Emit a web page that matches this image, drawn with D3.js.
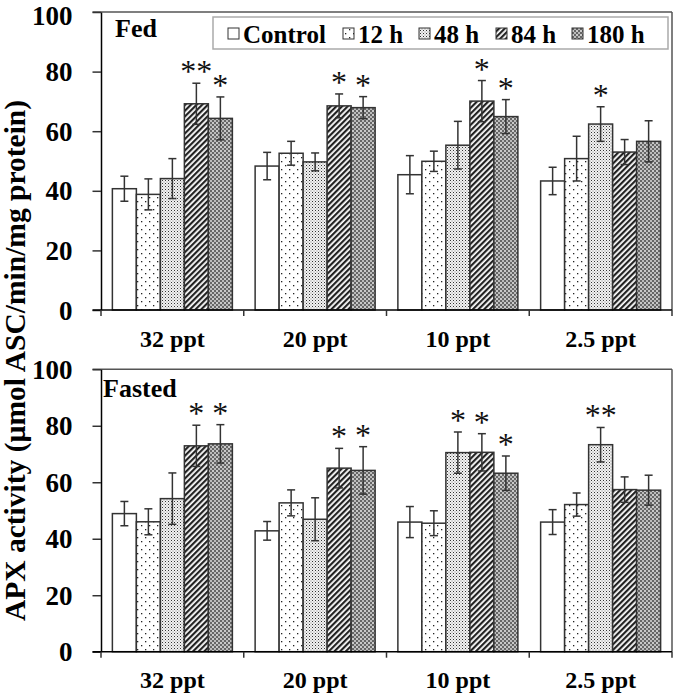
<!DOCTYPE html>
<html><head><meta charset="utf-8">
<script src="https://cdn.jsdelivr.net/npm/d3@7"></script>
<style>body{margin:0;background:#fff}svg{display:block}</style>
</head><body>
<script>
const categories = ["32 ppt","20 ppt","10 ppt","2.5 ppt"];
const series = ["Control","12 h","48 h","84 h","180 h"];
const yTicks = [0,20,40,60,80,100];
// Fed panel: values[series][category]
const fedMean = [
  [40.7,48.3,45.4,43.3],
  [38.8,52.6,49.9,50.8],
  [44.1,49.7,55.3,62.4],
  [69.2,68.5,70.1,53.0],
  [64.3,67.9,64.9,56.6]
];
const fedErr = [
  [4.2,4.6,6.4,4.6],
  [5.2,4.0,3.4,7.5],
  [6.7,3.0,8.0,5.8],
  [6.9,4.0,6.9,4.2],
  [7.2,3.7,5.7,6.9]
];
const fedSig = [
  ["","","",""],
  ["","","",""],
  ["","","","*"],
  ["**","*","*",""],
  ["*","*","*",""]
];
const fastMean = [
  [48.9,42.8,45.9,45.9],
  [46.0,52.7,45.5,52.1],
  [54.2,46.9,70.5,73.3],
  [72.9,65.0,70.6,57.4],
  [73.6,64.2,63.2,57.2]
];
const fastErr = [
  [4.3,3.3,5.5,4.4],
  [4.6,4.6,4.4,4.1],
  [9.1,7.6,7.3,6.1],
  [7.3,7.0,6.6,4.5],
  [6.8,8.4,6.1,5.3]
];
const fastSig = [
  ["","","",""],
  ["","","",""],
  ["","","*","**"],
  ["*","*","*",""],
  ["*","*","*",""]
];

const FONT = "'Liberation Serif', Tinos, 'Times New Roman', 'DejaVu Serif', serif";
const W=674,H=694;
const svg=d3.select("body").append("svg").attr("width",W).attr("height",H).style("font-family",FONT);
const defs=svg.append("defs");
// patterns
const p12=defs.append("pattern").attr("id","p1").attr("patternUnits","userSpaceOnUse").attr("width",8).attr("height",8);
p12.append("rect").attr("width",8).attr("height",8).attr("fill","#fff");
p12.append("rect").attr("x",1).attr("y",1).attr("width",1.3).attr("height",1.3).attr("fill","#222");
p12.append("rect").attr("x",5).attr("y",5).attr("width",1.3).attr("height",1.3).attr("fill","#222");
const p48=defs.append("pattern").attr("id","p2").attr("patternUnits","userSpaceOnUse").attr("width",3).attr("height",3);
p48.append("rect").attr("width",3).attr("height",3).attr("fill","#f2f2f2");
p48.append("rect").attr("x",0).attr("y",0).attr("width",1).attr("height",1).attr("fill","#333");
p48.append("rect").attr("x",1.5).attr("y",1.5).attr("width",1).attr("height",1).attr("fill","#888");
const p84=defs.append("pattern").attr("id","p3").attr("patternUnits","userSpaceOnUse").attr("width",4).attr("height",4).attr("patternTransform","rotate(45)");
p84.append("rect").attr("width",4).attr("height",4).attr("fill","#fff");
p84.append("rect").attr("width",2.2).attr("height",4).attr("fill","#222");
const p180=defs.append("pattern").attr("id","p4").attr("patternUnits","userSpaceOnUse").attr("width",4).attr("height",4);
p180.append("rect").attr("width",4).attr("height",4).attr("fill","#bbb");
p180.append("rect").attr("width",2).attr("height",2).attr("fill","#666");
p180.append("rect").attr("x",2).attr("y",2).attr("width",2).attr("height",2).attr("fill","#666");
p180.append("rect").attr("x",0.5).attr("y",2.5).attr("width",1).attr("height",1).attr("fill","#f4f4f4");
const fills=["#fff","url(#p1)","url(#p2)","url(#p3)","url(#p4)"];

const x0=d3.scaleBand().domain(categories).range([101,672]).padding(0);
const x1=d3.scaleBand().domain(series).range([0,x0.bandwidth()]).paddingInner(0).paddingOuter(0.474);

function panel(top,bottom,mean,err,sig,label,labelX,labelY,catY){
  const y=d3.scaleLinear().domain([0,100]).range([bottom,top]);
  const g=svg.append("g");
  g.append("line").attr("x1",92.5).attr("x2",672).attr("y1",y(100)).attr("y2",y(100)).attr("stroke","#555").attr("stroke-width",1.5);
  g.append("line").attr("x1",672).attr("x2",672).attr("y1",y(100)).attr("y2",y(0)).attr("stroke","#555").attr("stroke-width",1.5);
  series.forEach((s,si)=>{
    categories.forEach((c,ci)=>{
      const v=mean[si][ci], e=err[si][ci];
      const bx=x0(c)+x1(s), bw=x1.bandwidth();
      g.append("rect").attr("x",bx).attr("y",y(v)).attr("width",bw).attr("height",y(0)-y(v))
        .attr("fill",fills[si]).attr("stroke","#333").attr("stroke-width",1.5);
      const cx=bx+bw/2;
      g.append("line").attr("x1",cx).attr("x2",cx).attr("y1",y(v+e)).attr("y2",y(v-e)).attr("stroke","#333").attr("stroke-width",1.5);
      [v+e,v-e].forEach(t=>g.append("line").attr("x1",cx-4).attr("x2",cx+4).attr("y1",y(t)).attr("y2",y(t)).attr("stroke","#333").attr("stroke-width",1.5));
      if(sig[si][ci]) g.append("text").attr("x",cx).attr("y",y(v+e)-1).attr("text-anchor","middle")
        .attr("font-size",32).attr("fill","#111").text(sig[si][ci]);
    });
  });
  const ya=g.append("g").attr("transform","translate(101,0)").call(d3.axisLeft(y).tickValues(yTicks).tickSize(8.5).tickSizeOuter(0).tickPadding(20));
  ya.attr("font-family",null);
  ya.select(".domain").attr("stroke","#000").attr("stroke-width",1.5);
  ya.selectAll(".tick line").attr("stroke","#333").attr("stroke-width",1.5);
  ya.selectAll("text").attr("font-size",27).attr("font-weight","bold").attr("fill","#000").style("font-family",FONT)
    .attr("dy",d=> (d===100 && y(100)<20) ? "0.45em" : "0.34em");
  g.append("line").attr("x1",92.5).attr("x2",672).attr("y1",y(0)).attr("y2",y(0)).attr("stroke","#000").attr("stroke-width",1.5);
  categories.concat([null]).forEach((c)=>{
    const xx= c!==null ? x0(c) : 672;
    g.append("line").attr("x1",xx).attr("x2",xx).attr("y1",y(0)).attr("y2",y(0)+6).attr("stroke","#333").attr("stroke-width",1.5);
  });
  categories.forEach(c=>g.append("text").attr("x",x0(c)+x0.bandwidth()/2).attr("y",catY).attr("text-anchor","middle")
    .attr("font-size",24).attr("font-weight","bold").text(c));
  g.append("text").attr("x",labelX).attr("y",labelY).attr("font-size",26).attr("font-weight","bold").text(label);
}
panel(12,310,fedMean,fedErr,fedSig,"Fed",115,37,347);
panel(369.3,651.7,fastMean,fastErr,fastSig,"Fasted",103,397,688);

const lg=svg.append("g");
lg.append("rect").attr("x",213).attr("y",17).attr("width",455).attr("height",32).attr("fill","#fff").attr("stroke","#aaa").attr("stroke-width",1.5);
const legX=[228,343,419,496,572];
series.forEach((s,i)=>{
  lg.append("rect").attr("x",legX[i]).attr("y",28).attr("width",11).attr("height",11).attr("fill",fills[i]).attr("stroke","#333").attr("stroke-width",1);
  lg.append("text").attr("x",legX[i]+15).attr("y",43).attr("font-size",25).attr("font-weight","bold").text(s);
});

svg.append("text").attr("transform","translate(25,360.5) rotate(-90)").attr("text-anchor","middle")
  .attr("font-size",29.5).attr("font-weight","bold").text("APX activity (µmol ASC/min/mg protein)");
</script>
</body></html>
